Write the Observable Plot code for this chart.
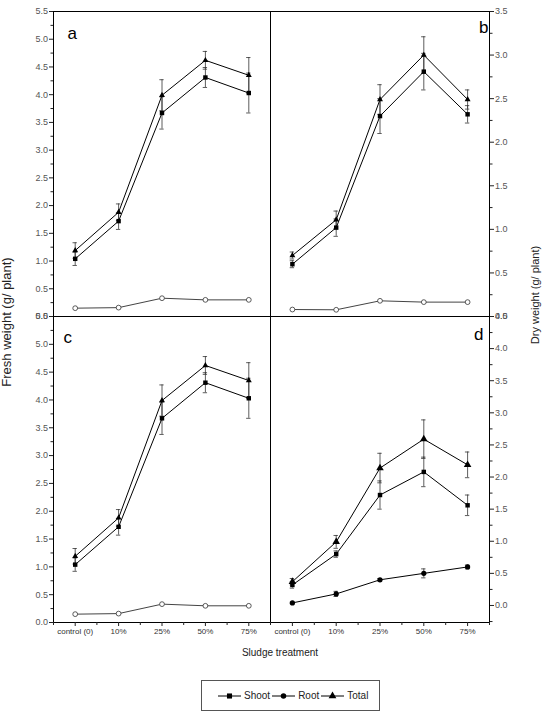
<!DOCTYPE html>
<html><head><meta charset="utf-8">
<script src="https://cdn.jsdelivr.net/npm/d3@7"></script>
<script src="https://cdn.jsdelivr.net/npm/@observablehq/plot@0.6"></script>
<style>
body{margin:0;background:#fff;font-family:"Liberation Sans",Arial,sans-serif;}
#wrap{position:relative;width:546px;height:724px;overflow:hidden;background:#fff;}
#wrap svg.panel{position:absolute;left:0;top:0;overflow:visible;}
.rot{position:absolute;white-space:nowrap;transform:translate(-50%,-50%) rotate(-90deg);color:#222;}
#xtitle{position:absolute;left:280px;top:652px;transform:translate(-50%,-50%);font-size:10px;color:#222;white-space:nowrap;}
#legend{position:absolute;left:201px;top:680px;width:179px;height:31px;border:1px solid #555;display:flex;align-items:center;padding-left:16px;box-sizing:border-box;font-size:10px;color:#222;}
#legend .it{display:flex;align-items:center;}
#legend svg{margin-right:3px;}
#legend span{margin-right:2px;}
</style></head><body>
<div id="wrap"></div>
<script>
// ---- data ----
const treatments = ["control (0)", "10%", "25%", "50%", "75%"];
const seriesNames = ["Shoot", "Root", "Total"];
const panelLetters = ["a", "b", "c", "d"];
const yTitleLeft = "Fresh weight (g/ plant)";
const yTitleRight = "Dry weight (g/ plant)";
const xTitle = "Sludge treatment";

// Fresh weight (panels a and c show the same values)
const freshShoot    = [1.04, 1.72, 3.67, 4.31, 4.03];
const freshShootErr = [0.12, 0.15, 0.29, 0.18, 0.36];
const freshRoot     = [0.15, 0.16, 0.33, 0.30, 0.30];
const freshTotal    = [1.19, 1.88, 3.99, 4.62, 4.35];
const freshTotalErr = [0.14, 0.15, 0.28, 0.16, 0.32];

// Dry weight, panel b
const dryShootB    = [0.60, 1.02, 2.30, 2.81, 2.32];
const dryShootBErr = [0.04, 0.10, 0.20, 0.21, 0.10];
const dryRootB     = [0.08, 0.077, 0.18, 0.165, 0.165];
const dryTotalB    = [0.70, 1.11, 2.49, 3.00, 2.49];
const dryTotalBErr = [0.04, 0.10, 0.17, 0.21, 0.11];

// Dry weight, panel d
const dryShootD    = [0.32, 0.80, 1.72, 2.08, 1.56];
const dryShootDErr = [0.05, 0.05, 0.22, 0.23, 0.16];
const dryRootD     = [0.04, 0.18, 0.40, 0.50, 0.60];
const dryRootDErr  = [0.01, 0.04, 0.02, 0.07, 0.03];
const dryTotalD    = [0.37, 0.99, 2.14, 2.59, 2.19];
const dryTotalDErr = [0.05, 0.10, 0.23, 0.30, 0.20];

// ---- layout ----
const W = 546, H = 640;
const font = "Liberation Sans, Arial, sans-serif";
const wrap = document.getElementById("wrap");

function rowsOf(name, vals, errs) {
  return vals.map((v, i) => ({series: name, x: i, y: v, err: errs ? errs[i] : 0}));
}

function panel(p) {
  const shoot = rowsOf("Shoot", p.shoot, p.shootErr);
  const root = rowsOf("Root", p.root, p.rootErr);
  const total = rowsOf("Total", p.total, p.totalErr);
  const all = [...shoot, ...root, ...total];
  const withErr = all.filter(d => d.err > 0);
  const [y0, y1] = p.yDomain;
  const major = d3.range(Math.ceil(y0 / 0.5) * 0.5, y1 + 1e-9, 0.5);
  const minor = d3.range(Math.ceil((y0 - 0.25) / 0.5) * 0.5 + 0.25, y1, 0.5).filter(v => v >= y0 - 1e-9);
  const marks = [
    Plot.ruleX(withErr, {x: "x", y1: d => d.y - d.err, y2: d => d.y + d.err, stroke: "#333", strokeWidth: 0.8}),
    Plot.ruleY(withErr, {y: d => d.y + d.err, x1: d => d.x - 0.05, x2: d => d.x + 0.05, stroke: "#333", strokeWidth: 0.8}),
    Plot.ruleY(withErr, {y: d => d.y - d.err, x1: d => d.x - 0.05, x2: d => d.x + 0.05, stroke: "#333", strokeWidth: 0.8}),
    Plot.line(shoot, {x: "x", y: "y", stroke: "#000", strokeWidth: 1}),
    Plot.line(total, {x: "x", y: "y", stroke: "#000", strokeWidth: 1}),
    Plot.line(root, {x: "x", y: "y", stroke: p.rootOpen ? "#444" : "#000", strokeWidth: 1}),
    Plot.dot(shoot, {x: "x", y: "y", symbol: "square", fill: "#000", r: 2.5}),
    Plot.dot(total, {x: "x", y: "y", symbol: "triangle", fill: "#000", r: p.rootOpen ? 2.2 : 2.8}),
    p.rootOpen
      ? Plot.dot(root, {x: "x", y: "y", symbol: "circle", fill: "#fff", stroke: "#333", strokeWidth: 0.8, r: 2.4})
      : Plot.dot(root, {x: "x", y: "y", symbol: "circle", fill: "#000", r: 2.6}),
    Plot.frame({stroke: "#000", strokeWidth: 1}),
    Plot.axisY({anchor: p.anchor, ticks: major, tickSize: 4, tickPadding: 1.5, tickFormat: d3.format(".1f"), fill: "#555", stroke: "#222", fontSize: 9, label: null}),
    Plot.axisY({anchor: p.anchor, ticks: minor, tickSize: 2.5, tickFormat: () => "", stroke: "#222", label: null}),
    Plot.text([p.letter], {frameAnchor: p.anchor === "left" ? "top-left" : "top-right", textAnchor: p.anchor === "left" ? "start" : "end", dx: p.ldx, dy: p.ldy, fontSize: 17, fill: "#000"})
  ];
  if (p.showX) {
    marks.push(
      Plot.axisX({anchor: "bottom", ticks: [0, 1, 2, 3, 4], tickSize: 4, tickPadding: 2, tickFormat: i => treatments[i], fill: "#333", stroke: "#222", fontSize: 8, label: null}),
      Plot.axisX({anchor: "bottom", ticks: [-0.5, 0.5, 1.5, 2.5, 3.5, 4.5], tickSize: 3, tickFormat: () => "", stroke: "#222", label: null})
    );
  }
  const svg = Plot.plot({
    width: W, height: H,
    marginLeft: p.L, marginRight: W - p.R, marginTop: p.T, marginBottom: H - p.B,
    x: {type: "linear", domain: [-0.5, 4.5], axis: p.showX ? undefined : null, label: null},
    y: {domain: p.yDomain, label: null},
    style: {background: "transparent", overflow: "visible", fontFamily: font, fontSize: "9px"},
    marks
  });
  svg.classList.add("panel");
  wrap.appendChild(svg);
}

panel({letter: panelLetters[0], L: 53, R: 270, T: 11, B: 316, yDomain: [0, 5.5], anchor: "left", showX: false, rootOpen: true,
  shoot: freshShoot, shootErr: freshShootErr, root: freshRoot, total: freshTotal, totalErr: freshTotalErr, ldx: 14, ldy: 15});
panel({letter: panelLetters[1], L: 270, R: 489, T: 11, B: 316, yDomain: [0, 3.5], anchor: "right", showX: false, rootOpen: true,
  shoot: dryShootB, shootErr: dryShootBErr, root: dryRootB, total: dryTotalB, totalErr: dryTotalBErr, ldx: -1, ldy: 9});
panel({letter: panelLetters[2], L: 53, R: 270, T: 316, B: 622, yDomain: [0, 5.5], anchor: "left", showX: true, rootOpen: true,
  shoot: freshShoot, shootErr: freshShootErr, root: freshRoot, total: freshTotal, totalErr: freshTotalErr, ldx: 10, ldy: 14});
panel({letter: panelLetters[3], L: 270, R: 489, T: 316, B: 622, yDomain: [-0.265, 4.5], anchor: "right", showX: true, rootOpen: false,
  shoot: dryShootD, shootErr: dryShootDErr, root: dryRootD, rootErr: dryRootDErr, total: dryTotalD, totalErr: dryTotalDErr, ldx: -6, ldy: 11});

// titles
function addDiv(cls, id, text, css) {
  const d = document.createElement("div");
  if (cls) d.className = cls;
  if (id) d.id = id;
  d.textContent = text;
  Object.assign(d.style, css || {});
  wrap.appendChild(d);
  return d;
}
addDiv("rot", null, yTitleLeft, {left: "6px", top: "322px", fontSize: "13px"});
addDiv("rot", null, yTitleRight, {left: "535px", top: "295px", fontSize: "11px"});
addDiv(null, "xtitle", xTitle);

// legend
const legend = document.createElement("div");
legend.id = "legend";
const symbolPaths = {
  Shoot: d3.symbol(d3.symbolSquare, 26)(),
  Root: d3.symbol(d3.symbolCircle, 24)(),
  Total: d3.symbol(d3.symbolTriangle, 26)()
};
seriesNames.forEach(name => {
  const it = document.createElement("div");
  it.className = "it";
  it.innerHTML = `<svg width="23" height="10" viewBox="0 0 23 10"><line x1="0" x2="23" y1="5" y2="5" stroke="#000" stroke-width="1"/><path transform="translate(11.5,5)" d="${symbolPaths[name]}" fill="#000"/></svg><span>${name}</span>`;
  legend.appendChild(it);
});
wrap.appendChild(legend);
</script>
</body></html>
